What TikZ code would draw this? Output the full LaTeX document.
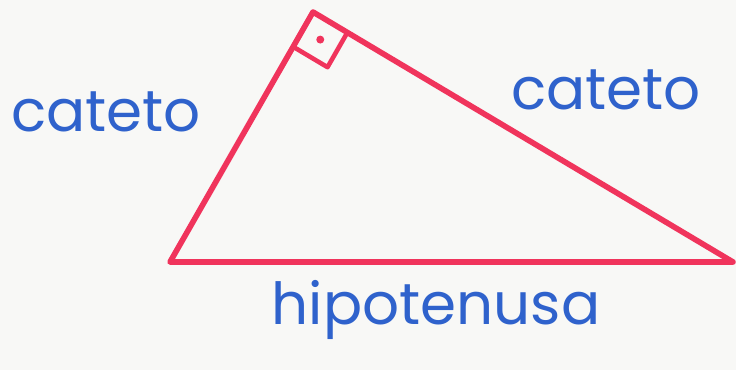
\documentclass[tikz,border=0pt]{standalone}
\usepackage{fontspec}
\setmainfont{Poppins}
\usepackage{tikz}
\usetikzlibrary{calc}
\definecolor{paper}{HTML}{F8F8F6}
\definecolor{markerred}{HTML}{F0345C}
\definecolor{inkblue}{HTML}{2F62CC}
\tikzset{
  leg/.style={draw=markerred, line width=3.2pt, line join=round, line cap=round},
  anglemark/.style={draw=markerred, line width=2.6pt, line join=round},
  label/.style={text=inkblue, font=\fontsize{33}{36}\selectfont, inner sep=0pt}
}
\begin{document}
\begin{tikzpicture}[x=0.02cm, y=-0.02cm]
  \fill[paper] (0,0) rectangle (736,370);
  \coordinate (top) at (313,12);
  \coordinate (bl) at (170,262);
  \coordinate (br) at (733,262);
  % right angle marker
  \coordinate (ma) at ($(top)!0.8cm!(bl)$);
  \coordinate (mb) at ($(top)!0.8cm!(br)$);
  \coordinate (mc) at ($(ma)+(mb)-(top)$);
  \draw[anglemark] (ma) -- (mc) -- (mb);
  \fill[markerred] ($(top)!0.5!(mc)$) circle (4);
  % sides
  \draw[leg] (top) -- (bl) -- (br) -- cycle;
  % texts
  \node[label] (catL) at (106,112) {cateto};
  \node[label] (catR) at (606,90) {cateto};
  \node[label] (hip) at (436,310) {hipotenusa};
\end{tikzpicture}
\end{document}
